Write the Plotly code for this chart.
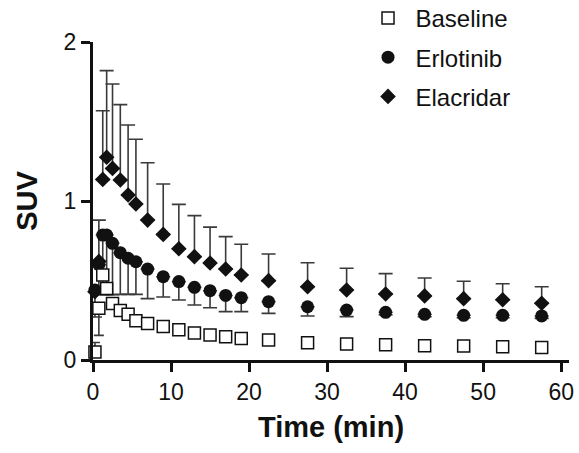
import plotly.graph_objects as go

time_min = [0.25, 0.75, 1.25, 1.75, 2.5, 3.5, 4.5, 5.5, 7, 9, 11, 13, 15, 17, 19,
            22.5, 27.5, 32.5, 37.5, 42.5, 47.5, 52.5, 57.5]

baseline = [0.05, 0.325, 0.535, 0.45, 0.355, 0.312, 0.287, 0.247, 0.23, 0.21, 0.19, 0.17,
            0.157, 0.147, 0.136, 0.126, 0.109, 0.100, 0.096, 0.090, 0.088, 0.084, 0.078]
# only the early baseline points show visible error bars
baseline_err_time = [0.25, 0.75]
baseline_err_mean = [0.05, 0.325]
baseline_err_up = [0.06, 0.0]
baseline_err_down = [0.0, 0.17]

erlotinib = [0.44, 0.60, 0.786, 0.786, 0.734, 0.675, 0.64, 0.618, 0.572, 0.524, 0.493, 0.457,
             0.436, 0.406, 0.392, 0.367, 0.335, 0.314, 0.300, 0.287, 0.281, 0.281, 0.277]
erlotinib_low = [0.27, 0.45, 0.41, 0.41, 0.41, 0.413, 0.413, 0.413, 0.386, 0.396, 0.377, 0.346,
                 0.329, 0.304, 0.304, 0.293, 0.277, 0.273, 0.285, 0.272, 0.266, 0.266, 0.262]

elacridar = [0.43, 0.62, 1.136, 1.275, 1.205, 1.132, 1.038, 0.981, 0.88, 0.79, 0.70, 0.65,
             0.61, 0.572, 0.535, 0.499, 0.461, 0.44, 0.415, 0.403, 0.386, 0.379, 0.357]
elacridar_top = [0.43, 0.88, 1.568, 1.82, 1.736, 1.606, 1.478, 1.388, 1.241, 1.107, 0.979, 0.908,
                 0.836, 0.776, 0.728, 0.667, 0.612, 0.577, 0.543, 0.516, 0.495, 0.48, 0.461]

x_ticks = [0, 10, 20, 30, 40, 50, 60]
y_ticks = [0, 1, 2]

ERR_COLOR = "#3a3a3a"

fig = go.Figure()

# Error bars (drawn first, beneath markers)
fig.add_trace(go.Scatter(
    x=time_min, y=elacridar, mode="markers", marker=dict(size=1, opacity=0),
    showlegend=False, hoverinfo="skip", cliponaxis=False,
    error_y=dict(type="data", symmetric=False,
                 array=[t - m for t, m in zip(elacridar_top, elacridar)],
                 arrayminus=[0] * len(elacridar),
                 color=ERR_COLOR, thickness=1.6, width=7)))
fig.add_trace(go.Scatter(
    x=time_min, y=erlotinib, mode="markers", marker=dict(size=1, opacity=0),
    showlegend=False, hoverinfo="skip", cliponaxis=False,
    error_y=dict(type="data", symmetric=False,
                 array=[0] * len(erlotinib),
                 arrayminus=[m - lo for m, lo in zip(erlotinib, erlotinib_low)],
                 color=ERR_COLOR, thickness=1.6, width=7)))
fig.add_trace(go.Scatter(
    x=baseline_err_time, y=baseline_err_mean, mode="markers", marker=dict(size=1, opacity=0),
    showlegend=False, hoverinfo="skip", cliponaxis=False,
    error_y=dict(type="data", symmetric=False,
                 array=baseline_err_up, arrayminus=baseline_err_down,
                 color=ERR_COLOR, thickness=1.6, width=5)))

# Markers
fig.add_trace(go.Scatter(
    x=time_min, y=elacridar, mode="markers", name="Elacridar", cliponaxis=False,
    legendgroup="c", legendrank=3, hoverinfo="skip",
    marker=dict(symbol="diamond", size=12, color="#111111", line=dict(width=0))))
fig.add_trace(go.Scatter(
    x=time_min, y=erlotinib, mode="markers", name="Erlotinib", cliponaxis=False,
    legendgroup="b", legendrank=2, hoverinfo="skip",
    marker=dict(symbol="circle", size=13, color="#111111", line=dict(width=0))))
fig.add_trace(go.Scatter(
    x=time_min, y=baseline, mode="markers", name="Baseline", cliponaxis=False,
    legendgroup="a", legendrank=1, hoverinfo="skip",
    marker=dict(symbol="square", size=12, color="white", line=dict(width=1.5, color="#111111"))))

fig.update_layout(
    width=579, height=453,
    margin=dict(l=93, r=10, t=42, b=93, autoexpand=False),
    paper_bgcolor="white", plot_bgcolor="white",
    font=dict(family="Liberation Sans, Arial, sans-serif", color="#111111"),
    showlegend=True,
    legend=dict(x=0.562, y=1.145, xanchor="left", yanchor="top",
                font=dict(size=24), tracegroupgap=5, bgcolor="rgba(0,0,0,0)",
                itemsizing="trace", itemwidth=45),
    xaxis=dict(range=[0, 61], tickvals=x_ticks, ticktext=[str(v) for v in x_ticks],
               showgrid=False, zeroline=False, showline=True, linecolor="#111111",
               linewidth=3, ticks="outside", ticklen=9, tickwidth=3, tickcolor="#111111",
               tickfont=dict(size=23), title=dict(text="<b>Time (min)</b>",
               font=dict(size=29), standoff=14)),
    yaxis=dict(range=[0, 2], tickvals=y_ticks, ticktext=[str(v) for v in y_ticks],
               showgrid=False, zeroline=False, showline=True, linecolor="#111111",
               linewidth=3, ticks="outside", ticklen=9, tickwidth=3, tickcolor="#111111",
               tickfont=dict(size=23), title=dict(text="<b>SUV</b>",
               font=dict(size=29), standoff=18)),
)

fig.write_html("out.html", config={"displayModeBar": False},
               post_script="document.body.style.margin='0';")
